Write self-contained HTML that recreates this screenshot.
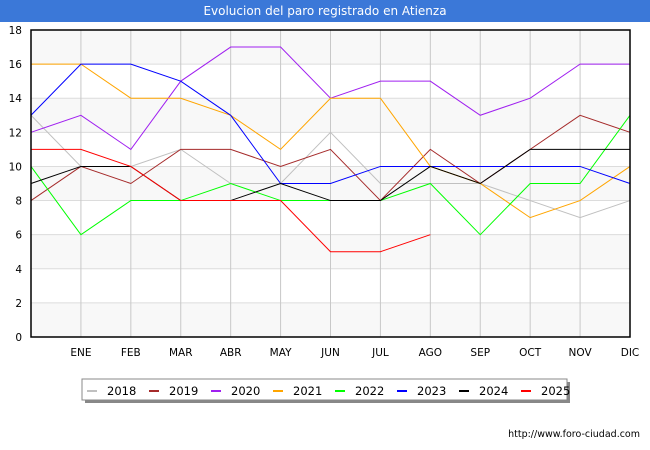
<!DOCTYPE html>
<html><head><meta charset="utf-8">
<style>
body{margin:0;width:650px;height:450px;background:#fff;font-family:"DejaVu Sans","Liberation Sans",sans-serif;overflow:hidden}
#title{position:absolute;left:0;top:0;width:650px;height:22px;background:#3b78d8;color:#fff;font-size:12px;line-height:22px;text-align:center}
svg text{font-family:"DejaVu Sans","Liberation Sans",sans-serif}
</style></head><body>
<div id="title">Evolucion del paro registrado en Atienza</div>
<svg id="chart" width="650" height="450" style="position:absolute;left:0;top:0"></svg>
<script>
const months=["","ENE","FEB","MAR","ABR","MAY","JUN","JUL","AGO","SEP","OCT","NOV","DIC"];
const yTicks=[0,2,4,6,8,10,12,14,16,18];
const years=["2018","2019","2020","2021","2022","2023","2024","2025"];
const colors=["#c0c0c0","#a52a2a","#a020f0","#ffa500","#00ff00","#0000ff","#000000","#ff0000"];
const s2018=[13,10,10,11,9,9,12,9,9,9,8,7,8];
const s2019=[8,10,9,11,11,10,11,8,11,9,11,13,12];
const s2020=[12,13,11,15,17,17,14,15,15,13,14,16,16];
const s2021=[16,16,14,14,13,11,14,14,10,9,7,8,10];
const s2022=[10,6,8,8,9,8,8,8,9,6,9,9,13];
const s2023=[13,16,16,15,13,9,9,10,10,10,10,10,9];
const s2024=[9,10,10,8,8,9,8,8,10,9,11,11,11];
const s2025=[11,11,10,8,8,8,5,5,6];
const series=[s2018,s2019,s2020,s2021,s2022,s2023,s2024,s2025];
const L=31,R=630,T=30,B=337,NS="http://www.w3.org/2000/svg";
const x=i=>L+i*(R-L)/12, y=v=>B-v*(B-T)/18;
const svg=document.getElementById('chart');
function mk(t,a,p){const e=document.createElementNS(NS,t);for(const k in a)e.setAttribute(k,a[k]);(p||svg).appendChild(e);return e;}
for(let i=0;i<yTicks.length-1;i+=2){
  const r=mk('rect',{x:L,y:y(yTicks[i+1]),width:R-L,height:y(yTicks[i])-y(yTicks[i+1]),fill:'#f8f8f8'});
  
  
}
yTicks.forEach(v=>{
  const g=mk('line',{x1:L,x2:R,y1:y(v),y2:y(v),stroke:'#dcdcdc','stroke-width':1});
  
  
  const t=mk('text',{x:L-9,y:y(v)+4,'text-anchor':'end','font-size':10.5,fill:'#000'});
  t.textContent=v;
  
  
});
months.forEach((m,i)=>{
  const g=mk('line',{x1:x(i),x2:x(i),y1:T,y2:B,stroke:'#c8c8c8','stroke-width':1});
  
  
  if(m){const t=mk('text',{x:x(i),y:B+19,'text-anchor':'middle','font-size':10.5,fill:'#000'});
  t.textContent=m;
  
  }
});
series.forEach((s,k)=>{
  const p=mk('polyline',{points:s.map((v,i)=>x(i)+','+y(v)).join(' '),fill:'none',stroke:colors[k],'stroke-width':1});
  
  
});
const fr=mk('rect',{x:L,y:T,width:R-L,height:B-T,fill:'none',stroke:'#000','stroke-width':1.5});


const lg=mk('g',{});


mk('rect',{x:85,y:382,width:485,height:21,fill:'#888'},lg);
mk('rect',{x:82,y:379,width:485,height:21,fill:'#fff',stroke:'#888'},lg);
years.forEach((yr,k)=>{
  const e=mk('g',{},lg);
  
  
  const x0=87+k*62;
  mk('line',{x1:x0,x2:x0+10,y1:391,y2:391,stroke:colors[k],'stroke-width':2},e);
  const t=mk('text',{x:x0+20,y:395,'font-size':11.5,fill:'#000'},e);
  t.textContent=yr;
});
const f=mk('text',{x:640,y:437,'text-anchor':'end','font-size':9.5,fill:'#000'});
f.textContent='http://www.foro-ciudad.com';


</script>
</body></html>
